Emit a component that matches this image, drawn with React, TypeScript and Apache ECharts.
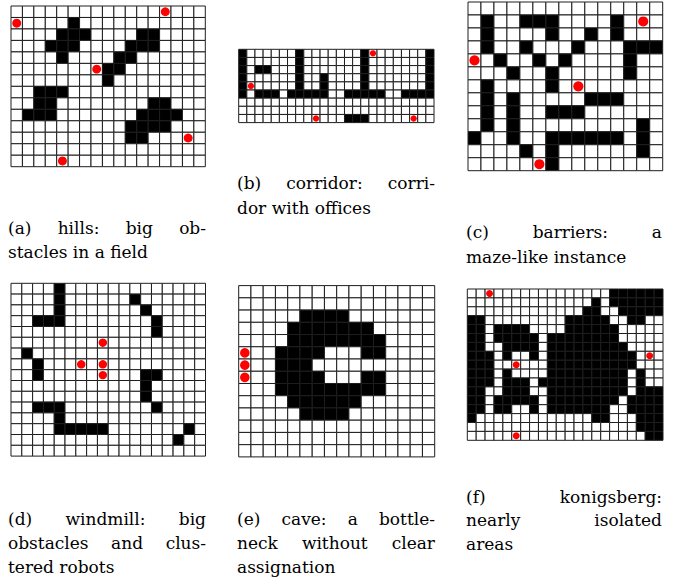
import React, { useEffect, useRef } from "react";
import * as echarts from "echarts";

// ---------- DATA ----------
// '#' = obstacle cell, '.' = free cell
const hillsMap = [
  ".................",
  ".....#...........",
  "....###....##....",
  "...###....###....",
  "....#....##......",
  "........##.......",
  "........#........",
  "..###............",
  "..##........##...",
  ".###.......####..",
  "..........####...",
  "..........##.....",
  ".................",
  ".................",
];
const hillsRobots = [[13, 0], [0, 1], [7, 5], [15, 11], [4, 13]];

const corridorMap = [
  "#......#.......#.......#",
  "#......#.......#.......#",
  "#.##...#.......#.......#",
  "#......#..#....#.......#",
  "#......#..#....#.......#",
  "#.###.#####..#####..####",
  "........................",
  "........................",
  ".............###........",
];
const corridorRobots = [[16, 0], [1, 4], [9, 8], [21, 8]];

const barriersMap = [
  "...............",
  ".#..###....#...",
  ".#....#..#.#...",
  ".#..#...#...###",
  "..#..#.#....#..",
  "...#..#.....#..",
  ".#....#........",
  ".#.#.....###...",
  ".#.#..###......",
  ".#.#.........#.",
  "#..#..######.#.",
  "....#.#......#.",
  "......#........",
];
const barriersRobots = [[13, 1], [0, 4], [8, 6], [5, 12]];

const windmillMap = [
  "....#.............",
  "....#......#......",
  "....#.......#.....",
  "..###........#....",
  ".............#....",
  "..................",
  ".#................",
  "..#...............",
  "..#.........##....",
  "............#.....",
  "............#.....",
  "..###........#....",
  "....#.............",
  "....#####.......#.",
  "...............#..",
  "..................",
];
const windmillRobots = [[8, 5], [6, 7], [8, 7], [8, 8]];

const caveMap = [
  "................",
  "................",
  ".....####.......",
  "....#######.....",
  "....########....",
  "...####...##....",
  "...###..........",
  "...####...##....",
  "...#########....",
  "....######......",
  ".....####.......",
  "................",
  "................",
  "................",
];
const caveRobots = [[0, 5], [0, 6], [0, 7]];

const konigsbergMap = [
  "................######",
  "..............#.######",
  ".............##..#####",
  "##.........#####..##..",
  "##.####....######.....",
  "##.#####.########.....",
  "##..####.#########....",
  "###.#..#.##########...",
  "###......##########...",
  "###.#....#########.#..",
  "###.###.##########.#..",
  "##..###..#########.###",
  "##.#####.########.####",
  "##.##..#.#######..####",
  "#.............##...###",
  "...................###",
  "....................##",
];
const konigsbergRobots = [[2, 0], [20, 7], [5, 8], [5, 16]];

// caption lines (words)
const hillsCaption = [["(a)", "hills:", "big", "ob-"], ["stacles", "in", "a", "field"]];
const corridorCaption = [["(b)", "corridor:", "corri-"], ["dor", "with", "offices"]];
const barriersCaption = [["(c)", "barriers:", "a"], ["maze-like", "instance"]];
const windmillCaption = [["(d)", "windmill:", "big"], ["obstacles", "and", "clus-"], ["tered", "robots"]];
const caveCaption = [["(e)", "cave:", "a", "bottle-"], ["neck", "without", "clear"], ["assignation"]];
const konigsbergCaption = [["(f)", "konigsberg:"], ["nearly", "isolated"], ["areas"]];

// ---------- LAYOUT ----------
const panels = [
  { map: hillsMap, robots: hillsRobots, caption: hillsCaption, box: { left: 11, top: 6, width: 194.3, height: 160.7 }, cap: { x: 8, w: 198, ys: [228, 252] } },
  { map: corridorMap, robots: corridorRobots, caption: corridorCaption, box: { left: 238.7, top: 49.3, width: 195.3, height: 73.3 }, cap: { x: 237, w: 198, ys: [183, 208] } },
  { map: barriersMap, robots: barriersRobots, caption: barriersCaption, box: { left: 468, top: 2, width: 194.7, height: 168.7 }, cap: { x: 466, w: 196, ys: [232, 257] } },
  { map: windmillMap, robots: windmillRobots, caption: windmillCaption, box: { left: 11, top: 283.3, width: 194.5, height: 172.8 }, cap: { x: 8, w: 198, ys: [519, 543, 567] } },
  { map: caveMap, robots: caveRobots, caption: caveCaption, box: { left: 238.7, top: 285.6, width: 196, height: 171.3 }, cap: { x: 237, w: 198, ys: [519, 543, 567] } },
  { map: konigsbergMap, robots: konigsbergRobots, caption: konigsbergCaption, box: { left: 467.3, top: 289, width: 195.7, height: 151.3 }, cap: { x: 466, w: 196, ys: [497, 520, 544] } },
];

const FONT = '17px "DejaVu Serif"';

function measure(word: string): number {
  const c = document.createElement("canvas");
  const ctx = c.getContext("2d")!;
  ctx.font = FONT;
  return ctx.measureText(word).width;
}

export default function App() {
  const ref = useRef<HTMLDivElement>(null);
  useEffect(() => {
    if (!ref.current) return;
    const chart = echarts.init(ref.current, undefined, { renderer: "svg" });

    const grid: any[] = [];
    const xAxis: any[] = [];
    const yAxis: any[] = [];
    const series: any[] = [];
    const graphic: any[] = [];

    panels.forEach((p, i) => {
      const rows = p.map.length;
      const cols = p.map[0].length;
      grid.push({ ...p.box });
      xAxis.push({ type: "value", gridIndex: i, min: 0, max: cols, show: false });
      yAxis.push({ type: "value", gridIndex: i, min: 0, max: rows, inverse: true, show: false });
      const cells: number[][] = [];
      p.map.forEach((line, r) => {
        for (let c = 0; c < cols; c++) cells.push([c, r, line[c] === "#" ? 1 : 0]);
      });
      series.push({
        type: "custom",
        xAxisIndex: i,
        yAxisIndex: i,
        silent: true,
        encode: { x: 0, y: 1 },
        data: cells,
        renderItem: (params: any, api: any) => {
          const c = api.value(0), r = api.value(1), k = api.value(2);
          const a = api.coord([c, r]);
          const b = api.coord([c + 1, r + 1]);
          return {
            type: "rect",
            shape: { x: a[0], y: Math.min(a[1], b[1]), width: b[0] - a[0], height: Math.abs(b[1] - a[1]) },
            style: { fill: k ? "#000" : "#fff", stroke: "#1e1e1e", lineWidth: 1 },
          };
        },
      });
      series.push({
        type: "custom",
        xAxisIndex: i,
        yAxisIndex: i,
        silent: true,
        encode: { x: 0, y: 1 },
        data: p.robots,
        z: 5,
        renderItem: (params: any, api: any) => {
          const c = api.value(0), r = api.value(1);
          const ctr = api.coord([c + 0.5, r + 0.5]);
          const sz = api.size([1, 1]);
          return {
            type: "circle",
            shape: { cx: ctr[0], cy: ctr[1], r: Math.min(sz[0], Math.abs(sz[1])) * 0.39 },
            style: { fill: "#ff0000", stroke: "none" },
          };
        },
      });

      // captions
      p.caption.forEach((words, li) => {
        const y = p.cap.ys[li];
        const last = li === p.caption.length - 1;
        const widths = words.map(measure);
        const total = widths.reduce((s, w) => s + w, 0);
        let gap = measure(" ");
        if (!last && words.length > 1) gap = (p.cap.w - total) / (words.length - 1);
        let x = p.cap.x;
        words.forEach((w, wi) => {
          graphic.push({
            type: "text",
            x,
            y,
            silent: true,
            style: {
              text: w,
              font: FONT,
              fill: "#000",
              align: "left",
              verticalAlign: "middle",
              textAlign: "left",
              textVerticalAlign: "middle",
            },
          });
          x += widths[wi] + gap;
        });
      });
    });

    chart.setOption({
      animation: false,
      backgroundColor: "#fff",
      grid,
      xAxis,
      yAxis,
      series,
      graphic,
    });
    return () => chart.dispose();
  }, []);
  return <div ref={ref} style={{ position: "absolute", left: 0, top: 0, width: 680, height: 580 }} />;
}
